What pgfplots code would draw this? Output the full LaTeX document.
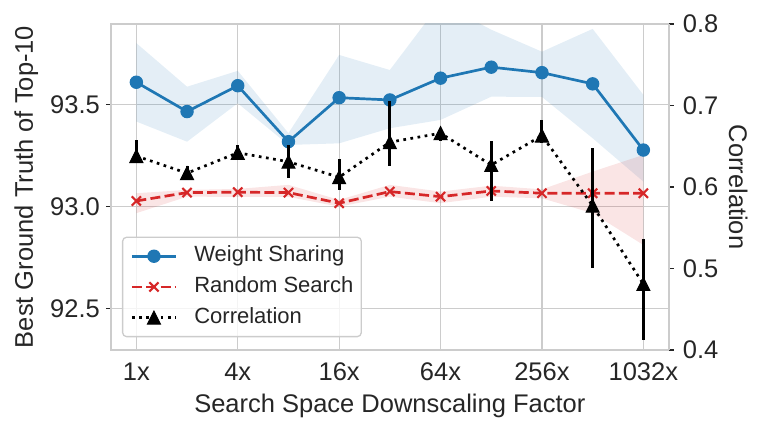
\documentclass[border=0pt]{standalone}
\usepackage{fontspec}
\setmainfont{Liberation Sans}
\usepackage{pgfplots}
\usepackage{pgfplotstable}
\pgfplotsset{compat=1.18}
\usepgfplotslibrary{fillbetween}

\definecolor{wsblue}{HTML}{1F77B4}
\definecolor{rsred}{HTML}{D62728}
\definecolor{gridgray}{HTML}{CCCCCC}
\definecolor{textgray}{HTML}{262626}

\pgfdeclareplotmark{mtri}{%
  \pgfpathmoveto{\pgfqpoint{0pt}{\pgfplotmarksize}}%
  \pgfpathlineto{\pgfqpoint{-\pgfplotmarksize}{-\pgfplotmarksize}}%
  \pgfpathlineto{\pgfqpoint{\pgfplotmarksize}{-\pgfplotmarksize}}%
  \pgfpathclose\pgfusepathqfillstroke}

\pgfplotstableread{
x ws wslo wshi rs rslo rshi
0 93.610 93.417 93.802 93.027 92.967 93.065
1 93.466 93.318 93.588 93.068 93.048 93.081
2 93.593 93.507 93.666 93.070 93.047 93.086
3 93.318 93.302 93.360 93.068 93.047 93.106
4 93.534 93.310 93.744 93.016 92.999 93.032
5 93.523 93.384 93.670 93.073 93.048 93.106
6 93.630 93.425 94.000 93.048 93.016 93.073
7 93.684 93.539 93.868 93.076 93.048 93.102
8 93.657 93.538 93.760 93.065 93.040 93.084
9 93.602 93.335 93.872 93.065 92.967 93.171
10 93.277 93.122 93.548 93.065 92.811 93.253
}\ggtable

\pgfplotstableread{
x c ep em
0 0.638 0.020 0.009
1 0.617 0.009 0.008
2 0.642 0.010 0.009
3 0.631 0.021 0.020
4 0.612 0.022 0.016
5 0.655 0.050 0.029
6 0.666 0.006 0.010
7 0.627 0.029 0.044
8 0.663 0.019 0.009
9 0.577 0.071 0.077
10 0.481 0.055 0.069
}\cortable

\pgfplotsset{
  base/.style={
    scale only axis, width=557.7pt, height=326pt,
    xmin=-0.5, xmax=10.5,
    at={(0pt,0pt)}, anchor=south west,
    /pgf/number format/assume math mode=true,
    tick label style={font=\fontsize{25.5}{30}\selectfont, text=textgray},
    axis line style={draw=gridgray, line width=1.6pt},
    tick align=outside,
    major tick length=5pt,
    tick style={draw=textgray, line width=1.2pt},
  },
  wsstyle/.style={color=wsblue, line width=2.7pt, mark=*, mark size=6.2pt, mark options={line width=1pt}},
  rsstyle/.style={color=rsred, line width=2.7pt, dash pattern=on 10pt off 4.3pt, mark=x, mark size=6.5pt, mark options={solid, line width=2.1pt}},
}

\begin{document}
\begin{tikzpicture}

\begin{axis}[base,
  ymin=92.295, ymax=93.896,
  ytick={92.5,93.0,93.5},
  yticklabel style={anchor=east, inner sep=0pt, xshift=-6pt,
    /pgf/number format/.cd, fixed, fixed zerofill, precision=1},
  xtick={0,2,4,6,8,10}, xticklabels={1x,4x,16x,64x,256x,1032x},
  xticklabel style={anchor=north, inner sep=0pt, yshift=-7.3pt},
  every x tick/.append style={draw=none},
  grid=major, major grid style={draw=gridgray, line width=1.3pt},
  ytick pos=left,
  xlabel={Search Space Downscaling Factor},
  ylabel={Best Ground Truth of Top-10},
  every axis x label/.style={at={(axis description cs:0.5,-0.193)}, anchor=base,
    font=\fontsize{25.5}{30}\selectfont, text=textgray},
  every axis y label/.style={at={(axis description cs:-0.1399,0.5)}, rotate=90, anchor=base,
    font=\fontsize{25.5}{30}\selectfont, text=textgray},
]
\addplot[name path=wsU, draw=none, forget plot] table[x=x,y=wshi]{\ggtable};
\addplot[name path=wsL, draw=none, forget plot] table[x=x,y=wslo]{\ggtable};
\addplot[fill=wsblue, fill opacity=0.12, draw=none, forget plot] fill between[of=wsU and wsL];
\addplot[name path=rsU, draw=none, forget plot] table[x=x,y=rshi]{\ggtable};
\addplot[name path=rsL, draw=none, forget plot] table[x=x,y=rslo]{\ggtable};
\addplot[fill=rsred, fill opacity=0.12, draw=none, forget plot] fill between[of=rsU and rsL];
\addplot[wsstyle] table[x=x,y=ws]{\ggtable};
\addplot[rsstyle] table[x=x,y=rs]{\ggtable};
\end{axis}

\begin{axis}[base,
  ymin=0.4, ymax=0.8,
  axis y line*=right, axis x line=none,
  ytick={0.4,0.5,0.6,0.7,0.8},
  yticklabel style={anchor=west, inner sep=0pt, xshift=9pt,
    /pgf/number format/.cd, fixed, fixed zerofill, precision=1},
  ylabel={Correlation},
  every axis y label/.style={at={(axis description cs:1.1085,0.5)}, rotate=-90, anchor=base,
    font=\fontsize{25.5}{30}\selectfont, text=textgray},
  legend style={at={(axis description cs:0.0197,0.039)}, anchor=south west,
    draw=gridgray, line width=1.3pt, rounded corners=4pt,
    fill=white, fill opacity=0.8, text opacity=1,
    font=\fontsize{22}{26}\selectfont, text=textgray,
    inner xsep=8pt, inner ysep=8.5pt, row sep=9.7pt, column sep=17pt,
    nodes={inner sep=0pt, text height=16pt, text depth=5pt}},
  legend cell align=left,
  legend image code/.code={\draw[sharp corners, fill opacity=1, mark repeat=2, mark phase=2] plot coordinates {(0pt,0pt)(22pt,0pt)(44pt,0pt)};},
]
\addlegendimage{wsstyle}
\addlegendentry{Weight Sharing}
\addlegendimage{rsstyle}
\addlegendentry{Random Search}
\addplot[color=black, line width=2.7pt, dash pattern=on 2.7pt off 4.5pt, mark=mtri, mark size=6.5pt, mark options={solid, line width=1pt},
  error bars/.cd, y dir=both, y explicit, error mark=none, error bar style={line width=3pt, solid}]
  table[x=x,y=c,y error plus=ep,y error minus=em]{\cortable};
\addlegendentry{Correlation}
\end{axis}

\pgfresetboundingbox
\path[use as bounding box] (-111pt,-84pt) rectangle (650pt,350pt);
\end{tikzpicture}
\end{document}
